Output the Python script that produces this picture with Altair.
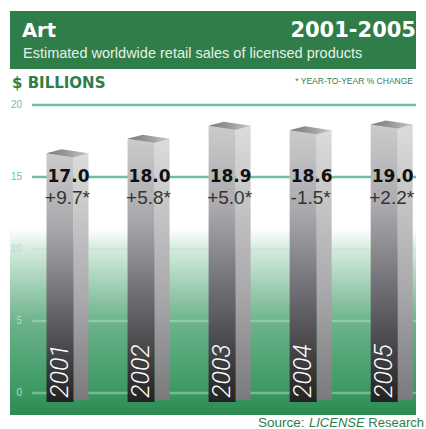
import altair as alt
import pandas as pd

# ---- data ----
years = [2001, 2002, 2003, 2004, 2005]
sales = [17.0, 18.0, 18.9, 18.6, 19.0]
changes = [9.7, 5.8, 5.0, -1.5, 2.2]
ticks = [0, 5, 10, 15, 20]

TITLE = "Art"
PERIOD = "2001-2005"
SUBTITLE = "Estimated worldwide retail sales of licensed products"
UNIT = "$ BILLIONS"
NOTE = "* YEAR-TO-YEAR % CHANGE"
SRC1 = "Source:"
SRC2 = "LICENSE"
SRC3 = "Research"

GREEN = "#2f7d48"
GRID = "#74bf9c"

df = pd.DataFrame({"year": years, "value": sales, "chg": changes})
tdf = pd.DataFrame({"t": ticks})
one = pd.DataFrame({"a": [0]})

xs = alt.Scale(domain=[2000.2289, 2005.3614], nice=False, zero=False)
ys = alt.Scale(domain=[-2.5, 27.2917], nice=False, zero=False)
X = alt.X("year:Q", scale=xs, axis=None)
Y = alt.Y("value:Q", scale=ys, axis=None)

def vgrad(stops):
    return {"gradient": "linear", "x1": 0, "y1": 0, "x2": 0, "y2": 1,
            "stops": [{"offset": o, "color": c} for o, c in stops]}

def hgrad(stops):
    return {"gradient": "linear", "x1": 0, "y1": 0, "x2": 1, "y2": 0,
            "stops": [{"offset": o, "color": c} for o, c in stops]}

header = alt.Chart(one).mark_rect(color=GREEN).encode(
    x=alt.value(10), x2=alt.value(416), y=alt.value(11), y2=alt.value(69))

greenbg = alt.Chart(one).mark_rect(
    fill=vgrad([(0, "#ffffff"), (0.12, "#d3eadc"), (0.5, "#6db38b"),
                (0.88, "#3a9862"), (1, "#2e8a52")])
).encode(x=alt.value(10), x2=alt.value(416), y=alt.value(228), y2=alt.value(415))

grid = alt.Chart(tdf).mark_rule(strokeWidth=2.5).encode(
    y=alt.Y("t:Q", scale=ys, axis=None),
    x=alt.value(32), x2=alt.value(416),
    color=alt.condition("datum.t >= 15", alt.value(GRID), alt.value("#c2e4d0")),
    opacity=alt.condition("datum.t >= 15", alt.value(1), alt.value(0.45)),
)

ticklab = alt.Chart(tdf).mark_text(align="right", baseline="middle", fontSize=10,
                                   font="Liberation Sans").encode(
    y=alt.Y("t:Q", scale=ys, axis=None),
    x=alt.value(22),
    text=alt.Text("t:Q"),
    color=alt.condition("datum.t >= 15", alt.value(GRID), alt.value("#b7dcc7")),
)

side = alt.Chart(df).mark_bar(
    width=15, xOffset=13.5, yOffset=5, y2Offset=7,
    fill=vgrad([(0, "#dcdcdc"), (0.6, "#a9a9ab"), (1, "#7a7a7c")])
).encode(x=X, y=Y, y2=alt.datum(0))

front = alt.Chart(df).mark_bar(
    width=27, xOffset=-7.5, yOffset=5, y2Offset=9,
    fill=vgrad([(0, "#cbcbcb"), (0.3, "#a9a9ad"), (0.6, "#6c6c72"), (1, "#222222")])
).encode(x=X, y=Y, y2=alt.datum(0))

TOP_PATH = "M-1,0.238L0.286,0.429L1,0.238L-0.286,0.048Z"
top = alt.Chart(df).mark_point(
    shape=TOP_PATH, size=1764, filled=True, opacity=1, strokeWidth=0,
    fill=hgrad([(0, "#7a7a7a"), (0.5, "#9a9a9a"), (1, "#c8c8c8")])
).encode(x=X, y=Y)

yearlab = alt.Chart(df).mark_text(
    angle=270, align="left", baseline="middle", fontSize=25, fontStyle="italic",
    fontWeight=300, font="Roboto", color="white", xOffset=-7.5, yOffset=5
).encode(x=X, y=alt.datum(0), text=alt.Text("year:Q", format="d"))

vallab = alt.Chart(df).mark_text(
    font="DejaVu Sans", fontWeight="bold", fontSize=17, color="#111111",
    baseline="middle", xOffset=1
).encode(x=X, y=alt.datum(15), text=alt.Text("value:Q", format=".1f"))

chglab = alt.Chart(df).transform_calculate(
    lab="(datum.chg < 0 ? '-' : '+') + format(abs(datum.chg), '.1f') + '*'"
).mark_text(
    font="Liberation Sans", fontSize=19, color="#333333", baseline="middle",
    xOffset=0, yOffset=21
).encode(x=X, y=alt.datum(15), text="lab:N")

def label(txt, x, y, **kw):
    return alt.Chart(one).mark_text(baseline="alphabetic", **kw).encode(
        x=alt.value(x), y=alt.value(y), text=alt.value(txt))

t_art = label(TITLE, 22, 37, align="left", font="DejaVu Sans", fontWeight="bold",
              fontSize=19.5, color="white")
t_per = label(PERIOD, 416, 37, align="right", font="DejaVu Sans", fontWeight="bold",
              fontSize=21, color="white")
t_sub = label(SUBTITLE, 23, 58, align="left", font="Liberation Sans", fontSize=14.5,
              color="#e6f1ea")
t_unit = label(UNIT, 12, 88, align="left", font="DejaVu Sans", fontWeight="bold",
               fontSize=15, color=GREEN)
t_note = label(NOTE, 413, 84, align="right", font="Liberation Sans", fontSize=8.5,
               color=GREEN)
s1 = label(SRC1, 258, 427, align="left", font="Liberation Sans", fontSize=13.5, color=GREEN)
s2 = label(SRC2, 309, 427, align="left", font="Liberation Sans", fontSize=13,
           fontStyle="italic", color=GREEN)
s3 = label(SRC3, 424, 427, align="right", font="Liberation Sans", fontSize=13, color=GREEN)

chart = alt.layer(
    header, greenbg, grid, ticklab, side, front, top, yearlab, vallab, chglab,
    t_art, t_per, t_sub, t_unit, t_note, s1, s2, s3
).properties(
    width=426, height=429, padding=0, background="white",
    autosize=alt.AutoSizeParams(type="none")
).configure_view(stroke=None)

chart.save("out.html", embed_options={"renderer": "svg", "actions": False})
